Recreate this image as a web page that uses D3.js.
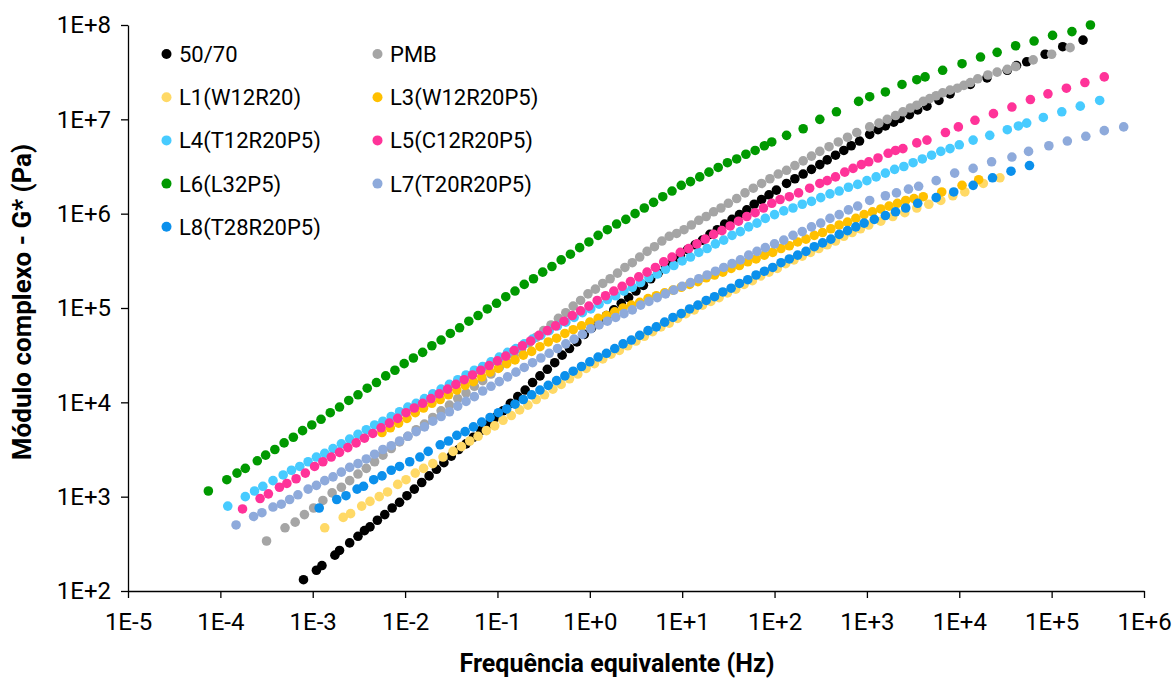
<!DOCTYPE html>
<html>
<head>
<meta charset="utf-8">
<script src="https://cdn.jsdelivr.net/npm/d3@7"></script>
<style>
  body { margin: 0; background: #fff; }
  svg { display: block; }
</style>
</head>
<body>
<svg id="chart" width="1173" height="678"></svg>
<script>
// Master curves of the complex modulus. Each point is
// [log10 of equivalent frequency (Hz), log10 of |G*| (Pa)].
const b5070 = [[-3.10,2.12],[-2.96,2.22],[-2.90,2.27],[-2.76,2.38],[-2.71,2.43],[-2.60,2.51],[-2.51,2.58],[-2.44,2.64],[-2.38,2.68],[-2.30,2.75],[-2.22,2.81],[-2.14,2.88],[-2.06,2.94],[-1.98,3.01],[-1.90,3.08],[-1.82,3.15],[-1.74,3.22],[-1.66,3.29],[-1.58,3.36],[-1.50,3.43],[-1.42,3.50],[-1.34,3.56],[-1.26,3.63],[-1.18,3.70],[-1.10,3.77],[-1.02,3.84],[-0.94,3.91],[-0.86,3.99],[-0.78,4.06],[-0.70,4.13],[-0.62,4.21],[-0.54,4.28],[-0.46,4.35],[-0.38,4.42],[-0.30,4.50],[-0.22,4.57],[-0.14,4.64],[-0.06,4.72],[0.02,4.79],[0.10,4.85],[0.18,4.92],[0.26,4.98],[0.34,5.05],[0.42,5.11],[0.50,5.18],[0.58,5.24],[0.66,5.31],[0.74,5.37],[0.82,5.44],[0.90,5.50],[0.98,5.56],[1.06,5.62],[1.14,5.67],[1.22,5.72],[1.30,5.78],[1.38,5.83],[1.46,5.89],[1.54,5.94],[1.62,5.99],[1.70,6.04],[1.78,6.10],[1.86,6.15],[1.94,6.20],[2.02,6.25],[2.13,6.32],[2.22,6.37],[2.31,6.42],[2.40,6.47],[2.49,6.52],[2.57,6.57],[2.66,6.62],[2.75,6.67],[2.83,6.72],[2.92,6.77],[3.03,6.84],[3.12,6.89],[3.20,6.93],[3.29,6.97],[3.36,7.01],[3.46,7.05],[3.55,7.10],[3.65,7.14],[3.78,7.20],[3.90,7.27],[4.12,7.37],[4.30,7.44],[4.52,7.52],[4.62,7.57],[4.73,7.61],[4.93,7.69],[5.12,7.77],[5.34,7.84]];

const pmb = [[-3.50,2.53],[-3.30,2.67],[-3.19,2.73],[-3.09,2.81],[-2.99,2.88],[-2.89,2.96],[-2.79,3.04],[-2.69,3.10],[-2.60,3.17],[-2.51,3.24],[-2.42,3.30],[-2.33,3.37],[-2.24,3.44],[-2.15,3.51],[-2.06,3.58],[-1.97,3.64],[-1.88,3.71],[-1.79,3.77],[-1.70,3.84],[-1.61,3.91],[-1.52,3.97],[-1.43,4.04],[-1.34,4.10],[-1.25,4.17],[-1.16,4.23],[-1.07,4.30],[-0.98,4.37],[-0.90,4.43],[-0.82,4.50],[-0.74,4.56],[-0.66,4.63],[-0.58,4.69],[-0.50,4.76],[-0.42,4.82],[-0.34,4.89],[-0.26,4.95],[-0.18,5.02],[-0.10,5.08],[-0.02,5.15],[0.06,5.20],[0.14,5.26],[0.22,5.31],[0.30,5.37],[0.38,5.43],[0.46,5.48],[0.54,5.54],[0.62,5.60],[0.70,5.65],[0.78,5.71],[0.86,5.76],[0.94,5.79],[1.02,5.83],[1.10,5.88],[1.18,5.93],[1.26,5.97],[1.34,6.02],[1.42,6.06],[1.50,6.11],[1.59,6.16],[1.68,6.22],[1.77,6.27],[1.86,6.32],[1.95,6.37],[2.04,6.42],[2.13,6.46],[2.22,6.51],[2.31,6.56],[2.40,6.61],[2.49,6.66],[2.59,6.71],[2.69,6.76],[2.79,6.81],[2.89,6.86],[3.03,6.92],[3.13,6.96],[3.22,7.00],[3.31,7.04],[3.39,7.08],[3.47,7.12],[3.54,7.15],[3.61,7.19],[3.68,7.22],[3.75,7.25],[3.82,7.28],[3.90,7.31],[3.98,7.33],[4.05,7.36],[4.12,7.39],[4.20,7.43],[4.31,7.47],[4.41,7.50],[4.52,7.53],[4.61,7.56],[4.80,7.63],[5.00,7.69],[5.20,7.76]];

const l1 = [[-2.87,2.67],[-2.67,2.78],[-2.59,2.82],[-2.47,2.90],[-2.38,2.95],[-2.28,3.00],[-2.19,3.05],[-2.08,3.13],[-1.99,3.18],[-1.89,3.25],[-1.80,3.30],[-1.70,3.35],[-1.59,3.42],[-1.48,3.48],[-1.39,3.53],[-1.30,3.59],[-1.21,3.64],[-1.12,3.70],[-1.03,3.75],[-0.94,3.81],[-0.85,3.86],[-0.76,3.92],[-0.67,3.97],[-0.58,4.03],[-0.49,4.08],[-0.40,4.14],[-0.31,4.19],[-0.22,4.25],[-0.13,4.30],[-0.04,4.36],[0.05,4.41],[0.14,4.46],[0.23,4.51],[0.32,4.55],[0.41,4.60],[0.50,4.65],[0.59,4.70],[0.68,4.75],[0.77,4.80],[0.86,4.84],[0.95,4.89],[1.04,4.94],[1.13,4.98],[1.22,5.03],[1.31,5.07],[1.40,5.11],[1.49,5.16],[1.58,5.20],[1.67,5.25],[1.76,5.29],[1.85,5.34],[1.94,5.38],[2.03,5.42],[2.12,5.47],[2.21,5.51],[2.30,5.55],[2.39,5.59],[2.48,5.63],[2.57,5.67],[2.66,5.71],[2.75,5.76],[2.84,5.80],[2.93,5.84],[3.02,5.88],[3.15,5.92],[3.28,5.97],[3.41,6.01],[3.54,6.06],[3.67,6.10],[3.80,6.14],[3.93,6.19],[4.06,6.23],[4.26,6.32],[4.44,6.38]];

const l3 = [[-2.25,3.68],[-2.16,3.73],[-2.07,3.78],[-1.98,3.83],[-1.89,3.89],[-1.80,3.94],[-1.71,3.99],[-1.62,4.03],[-1.53,4.08],[-1.44,4.13],[-1.35,4.18],[-1.26,4.22],[-1.17,4.27],[-1.08,4.32],[-0.99,4.36],[-0.90,4.41],[-0.81,4.45],[-0.72,4.50],[-0.63,4.54],[-0.54,4.59],[-0.45,4.64],[-0.36,4.68],[-0.27,4.73],[-0.18,4.77],[-0.09,4.81],[0.00,4.85],[0.09,4.89],[0.18,4.92],[0.27,4.96],[0.36,5.00],[0.45,5.03],[0.54,5.06],[0.63,5.10],[0.72,5.13],[0.81,5.16],[0.90,5.19],[0.99,5.22],[1.08,5.25],[1.17,5.28],[1.26,5.32],[1.35,5.35],[1.44,5.38],[1.53,5.42],[1.62,5.45],[1.71,5.49],[1.80,5.52],[1.89,5.56],[1.98,5.59],[2.07,5.63],[2.16,5.66],[2.25,5.70],[2.34,5.73],[2.43,5.77],[2.52,5.80],[2.61,5.84],[2.70,5.88],[2.79,5.91],[2.88,5.95],[2.97,5.99],[3.06,6.02],[3.15,6.05],[3.24,6.08],[3.33,6.11],[3.42,6.14],[3.51,6.16],[3.61,6.18],[3.81,6.23],[4.03,6.30],[4.21,6.36]];

const l4 = [[-3.92,2.90],[-3.73,3.00],[-3.63,3.06],[-3.54,3.11],[-3.43,3.17],[-3.32,3.23],[-3.23,3.28],[-3.14,3.32],[-3.05,3.37],[-2.96,3.42],[-2.87,3.46],[-2.78,3.51],[-2.69,3.56],[-2.60,3.61],[-2.51,3.66],[-2.42,3.71],[-2.33,3.76],[-2.24,3.80],[-2.15,3.85],[-2.06,3.90],[-1.97,3.95],[-1.88,3.99],[-1.79,4.04],[-1.70,4.09],[-1.61,4.14],[-1.52,4.19],[-1.43,4.24],[-1.34,4.29],[-1.25,4.34],[-1.16,4.38],[-1.07,4.43],[-0.98,4.48],[-0.89,4.53],[-0.80,4.57],[-0.71,4.62],[-0.62,4.67],[-0.53,4.71],[-0.44,4.76],[-0.35,4.81],[-0.26,4.85],[-0.17,4.90],[-0.08,4.95],[0.01,4.99],[0.10,5.04],[0.19,5.09],[0.28,5.13],[0.37,5.18],[0.46,5.22],[0.55,5.27],[0.64,5.32],[0.73,5.36],[0.82,5.41],[0.91,5.45],[1.00,5.50],[1.09,5.54],[1.18,5.59],[1.27,5.63],[1.36,5.68],[1.45,5.72],[1.54,5.77],[1.63,5.81],[1.72,5.86],[1.81,5.90],[1.90,5.95],[2.00,5.99],[2.10,6.03],[2.20,6.06],[2.30,6.10],[2.40,6.13],[2.50,6.17],[2.60,6.21],[2.70,6.24],[2.80,6.28],[2.90,6.31],[3.00,6.35],[3.10,6.39],[3.20,6.43],[3.30,6.47],[3.40,6.50],[3.50,6.54],[3.60,6.58],[3.70,6.62],[3.80,6.66],[3.90,6.69],[4.00,6.73],[4.15,6.78],[4.33,6.83],[4.52,6.89],[4.64,6.93],[4.73,6.96],[4.91,7.02],[5.11,7.08],[5.31,7.14],[5.52,7.20]];

const l5 = [[-3.76,2.87],[-3.57,2.98],[-3.48,3.03],[-3.36,3.10],[-3.28,3.14],[-3.18,3.19],[-3.08,3.25],[-2.98,3.32],[-2.89,3.37],[-2.80,3.42],[-2.71,3.47],[-2.62,3.52],[-2.53,3.57],[-2.44,3.62],[-2.35,3.67],[-2.26,3.73],[-2.17,3.78],[-2.08,3.83],[-1.99,3.89],[-1.90,3.94],[-1.81,3.99],[-1.72,4.04],[-1.63,4.09],[-1.54,4.14],[-1.45,4.19],[-1.36,4.24],[-1.27,4.29],[-1.18,4.34],[-1.09,4.39],[-1.00,4.44],[-0.91,4.49],[-0.82,4.55],[-0.73,4.60],[-0.64,4.65],[-0.55,4.71],[-0.46,4.76],[-0.37,4.81],[-0.28,4.86],[-0.19,4.92],[-0.10,4.97],[-0.01,5.02],[0.08,5.08],[0.17,5.13],[0.26,5.18],[0.35,5.23],[0.44,5.28],[0.53,5.33],[0.62,5.38],[0.71,5.43],[0.80,5.49],[0.89,5.54],[0.98,5.59],[1.07,5.63],[1.16,5.68],[1.25,5.73],[1.34,5.78],[1.43,5.82],[1.52,5.87],[1.61,5.92],[1.70,5.97],[1.79,6.01],[1.88,6.06],[1.97,6.11],[2.06,6.15],[2.16,6.18],[2.26,6.22],[2.38,6.27],[2.49,6.32],[2.57,6.35],[2.66,6.39],[2.76,6.44],[2.85,6.48],[2.94,6.52],[3.02,6.55],[3.12,6.59],[3.23,6.64],[3.31,6.67],[3.39,6.69],[3.54,6.75],[3.65,6.78],[3.85,6.86],[3.99,6.92],[4.17,6.99],[4.37,7.06],[4.57,7.13],[4.77,7.21],[4.96,7.27],[5.16,7.33],[5.36,7.39],[5.57,7.45]];

const l6 = [[-4.13,3.06],[-3.93,3.18],[-3.82,3.25],[-3.73,3.30],[-3.60,3.38],[-3.51,3.44],[-3.41,3.50],[-3.31,3.57],[-3.21,3.63],[-3.11,3.70],[-3.01,3.76],[-2.91,3.82],[-2.81,3.89],[-2.71,3.95],[-2.61,4.02],[-2.51,4.08],[-2.41,4.15],[-2.31,4.21],[-2.21,4.28],[-2.11,4.34],[-2.01,4.41],[-1.91,4.47],[-1.81,4.53],[-1.71,4.60],[-1.61,4.66],[-1.51,4.73],[-1.41,4.79],[-1.31,4.86],[-1.21,4.92],[-1.11,4.99],[-1.01,5.05],[-0.91,5.12],[-0.81,5.18],[-0.71,5.25],[-0.61,5.31],[-0.51,5.38],[-0.41,5.44],[-0.31,5.51],[-0.21,5.57],[-0.11,5.64],[-0.01,5.70],[0.09,5.77],[0.19,5.83],[0.29,5.89],[0.39,5.94],[0.49,6.00],[0.59,6.06],[0.69,6.12],[0.79,6.18],[0.89,6.24],[0.99,6.30],[1.09,6.34],[1.19,6.39],[1.29,6.44],[1.39,6.49],[1.49,6.54],[1.59,6.58],[1.69,6.63],[1.79,6.67],[1.89,6.72],[1.97,6.76],[2.13,6.83],[2.31,6.90],[2.49,7.00],[2.67,7.08],[2.91,7.19],[3.03,7.24],[3.20,7.29],[3.38,7.37],[3.54,7.42],[3.63,7.45],[3.82,7.52],[4.03,7.59],[4.23,7.66],[4.41,7.71],[4.61,7.78],[4.81,7.83],[5.01,7.89],[5.22,7.93],[5.42,8.00]];

const l7 = [[-3.83,2.70],[-3.64,2.79],[-3.55,2.83],[-3.43,2.89],[-3.34,2.92],[-3.25,2.97],[-3.16,3.02],[-3.05,3.08],[-2.96,3.12],[-2.87,3.17],[-2.78,3.21],[-2.69,3.26],[-2.60,3.31],[-2.51,3.35],[-2.42,3.40],[-2.33,3.45],[-2.24,3.50],[-2.15,3.54],[-2.06,3.59],[-1.97,3.64],[-1.88,3.69],[-1.79,3.74],[-1.70,3.80],[-1.61,3.85],[-1.52,3.90],[-1.43,3.96],[-1.34,4.01],[-1.25,4.06],[-1.16,4.12],[-1.07,4.17],[-0.98,4.22],[-0.89,4.27],[-0.80,4.32],[-0.71,4.37],[-0.62,4.42],[-0.53,4.47],[-0.44,4.52],[-0.35,4.57],[-0.26,4.62],[-0.17,4.67],[-0.08,4.72],[0.01,4.78],[0.10,4.82],[0.19,4.86],[0.28,4.90],[0.37,4.94],[0.46,4.98],[0.55,5.03],[0.64,5.07],[0.73,5.11],[0.82,5.15],[0.91,5.19],[1.00,5.23],[1.09,5.27],[1.18,5.31],[1.27,5.35],[1.36,5.39],[1.45,5.43],[1.54,5.47],[1.63,5.51],[1.72,5.56],[1.81,5.60],[1.90,5.64],[2.00,5.68],[2.10,5.72],[2.20,5.77],[2.30,5.81],[2.40,5.86],[2.50,5.90],[2.60,5.95],[2.70,5.99],[2.80,6.04],[2.90,6.08],[3.03,6.14],[3.20,6.19],[3.32,6.22],[3.45,6.26],[3.56,6.29],[3.75,6.35],[3.95,6.43],[4.15,6.48],[4.35,6.55],[4.57,6.60],[4.75,6.66],[4.97,6.72],[5.17,6.77],[5.37,6.82],[5.57,6.88],[5.78,6.92]];

const l8 = [[-2.93,2.88],[-2.74,2.97],[-2.64,3.01],[-2.52,3.08],[-2.45,3.11],[-2.34,3.18],[-2.25,3.22],[-2.15,3.28],[-2.06,3.32],[-1.95,3.37],[-1.84,3.42],[-1.75,3.48],[-1.62,3.55],[-1.53,3.59],[-1.44,3.65],[-1.35,3.69],[-1.26,3.74],[-1.17,3.79],[-1.08,3.84],[-0.99,3.89],[-0.90,3.93],[-0.81,3.98],[-0.72,4.03],[-0.63,4.08],[-0.54,4.13],[-0.45,4.18],[-0.36,4.23],[-0.27,4.28],[-0.18,4.33],[-0.09,4.38],[0.00,4.43],[0.09,4.48],[0.18,4.52],[0.27,4.57],[0.36,4.62],[0.45,4.66],[0.54,4.71],[0.63,4.76],[0.72,4.80],[0.81,4.85],[0.90,4.90],[0.99,4.94],[1.08,4.99],[1.17,5.03],[1.26,5.08],[1.35,5.12],[1.44,5.17],[1.53,5.21],[1.62,5.26],[1.71,5.30],[1.80,5.35],[1.89,5.39],[1.98,5.43],[2.07,5.48],[2.16,5.52],[2.25,5.56],[2.34,5.60],[2.43,5.65],[2.52,5.69],[2.61,5.73],[2.70,5.78],[2.79,5.82],[2.88,5.86],[2.97,5.90],[3.08,5.94],[3.20,5.98],[3.31,6.02],[3.42,6.06],[3.55,6.11],[3.75,6.17],[3.94,6.23],[4.15,6.30],[4.36,6.38],[4.56,6.45],[4.76,6.51]];

const seriesNames = ["50/70", "PMB", "L1(W12R20)", "L3(W12R20P5)", "L4(T12R20P5)", "L5(C12R20P5)", "L6(L32P5)", "L7(T20R20P5)", "L8(T28R20P5)"];
const seriesData = [b5070, pmb, l1, l3, l4, l5, l6, l7, l8];
const seriesColors = ["#000000", "#a5a5a5", "#ffd966", "#ffc000", "#47cbff", "#ff3399", "#009900", "#8eaadb", "#0b90ec"];

const xTickValues = [1e-5, 1e-4, 1e-3, 1e-2, 1e-1, 1e0, 1e1, 1e2, 1e3, 1e4, 1e5, 1e6];
const xTickLabels = ["1E-5", "1E-4", "1E-3", "1E-2", "1E-1", "1E+0", "1E+1", "1E+2", "1E+3", "1E+4", "1E+5", "1E+6"];
const yTickValues = [1e2, 1e3, 1e4, 1e5, 1e6, 1e7, 1e8];
const yTickLabels = ["1E+2", "1E+3", "1E+4", "1E+5", "1E+6", "1E+7", "1E+8"];

const svg = d3.select("#chart");
const fontFamily = "Roboto, 'Liberation Sans', Arial, sans-serif";

const x = d3.scaleLog().domain([1e-5, 1e6]).range([128, 1144]);
const y = d3.scaleLog().domain([1e2, 1e8]).range([591, 25]);

// series, drawn in legend order so later ones sit on top
const plot = svg.append("g");
seriesData.forEach((pts, i) => {
  plot.append("g")
    .attr("fill", seriesColors[i])
    .selectAll("circle")
    .data(pts)
    .join("circle")
    .attr("cx", d => x(Math.pow(10, d[0])))
    .attr("cy", d => y(Math.pow(10, d[1])))
    .attr("r", 4.8);
});

// axes
const xAxis = d3.axisBottom(x)
  .tickValues(xTickValues)
  .tickFormat((d, i) => xTickLabels[i])
  .tickSize(7).tickSizeOuter(0).tickPadding(15);
const yAxis = d3.axisLeft(y)
  .tickValues(yTickValues)
  .tickFormat((d, i) => yTickLabels[i])
  .tickSize(7).tickSizeOuter(0).tickPadding(10);

const gx = svg.append("g").attr("transform", "translate(0,591)").call(xAxis);
const gy = svg.append("g").attr("transform", "translate(128,0)").call(yAxis);
[gx, gy].forEach(g => {
  g.select(".domain").attr("stroke", "#000").attr("stroke-width", 1.3);
  g.selectAll(".tick line").attr("stroke", "#000").attr("stroke-width", 1.3);
  g.selectAll(".tick text")
    .attr("fill", "#000")
    .style("font-family", fontFamily)
    .style("font-size", "24px");
});

// axis titles
svg.append("text")
  .attr("x", 617).attr("y", 672)
  .attr("text-anchor", "middle")
  .style("font-family", fontFamily)
  .style("font-weight", "bold")
  .style("font-size", "25px")
  .text("Frequência equivalente (Hz)");

svg.append("text")
  .attr("transform", "translate(31,302) rotate(-90)")
  .attr("text-anchor", "middle")
  .style("font-family", fontFamily)
  .style("font-weight", "bold")
  .style("font-size", "26px")
  .text("Módulo complexo - G* (Pa)");

// legend, two columns
const legend = svg.append("g");
seriesNames.forEach((name, i) => {
  const col = i % 2, row = Math.floor(i / 2);
  const lx = col === 0 ? 166.5 : 377.5;
  const ly = 54 + row * 43.2;
  legend.append("circle")
    .attr("cx", lx).attr("cy", ly).attr("r", 5)
    .attr("fill", seriesColors[i]);
  legend.append("text")
    .attr("x", lx + 12.5).attr("y", ly)
    .attr("dy", "0.36em")
    .style("font-family", fontFamily)
    .style("font-size", "22px")
    .attr("fill", "#000")
    .text(name);
});
</script>
</body>
</html>
